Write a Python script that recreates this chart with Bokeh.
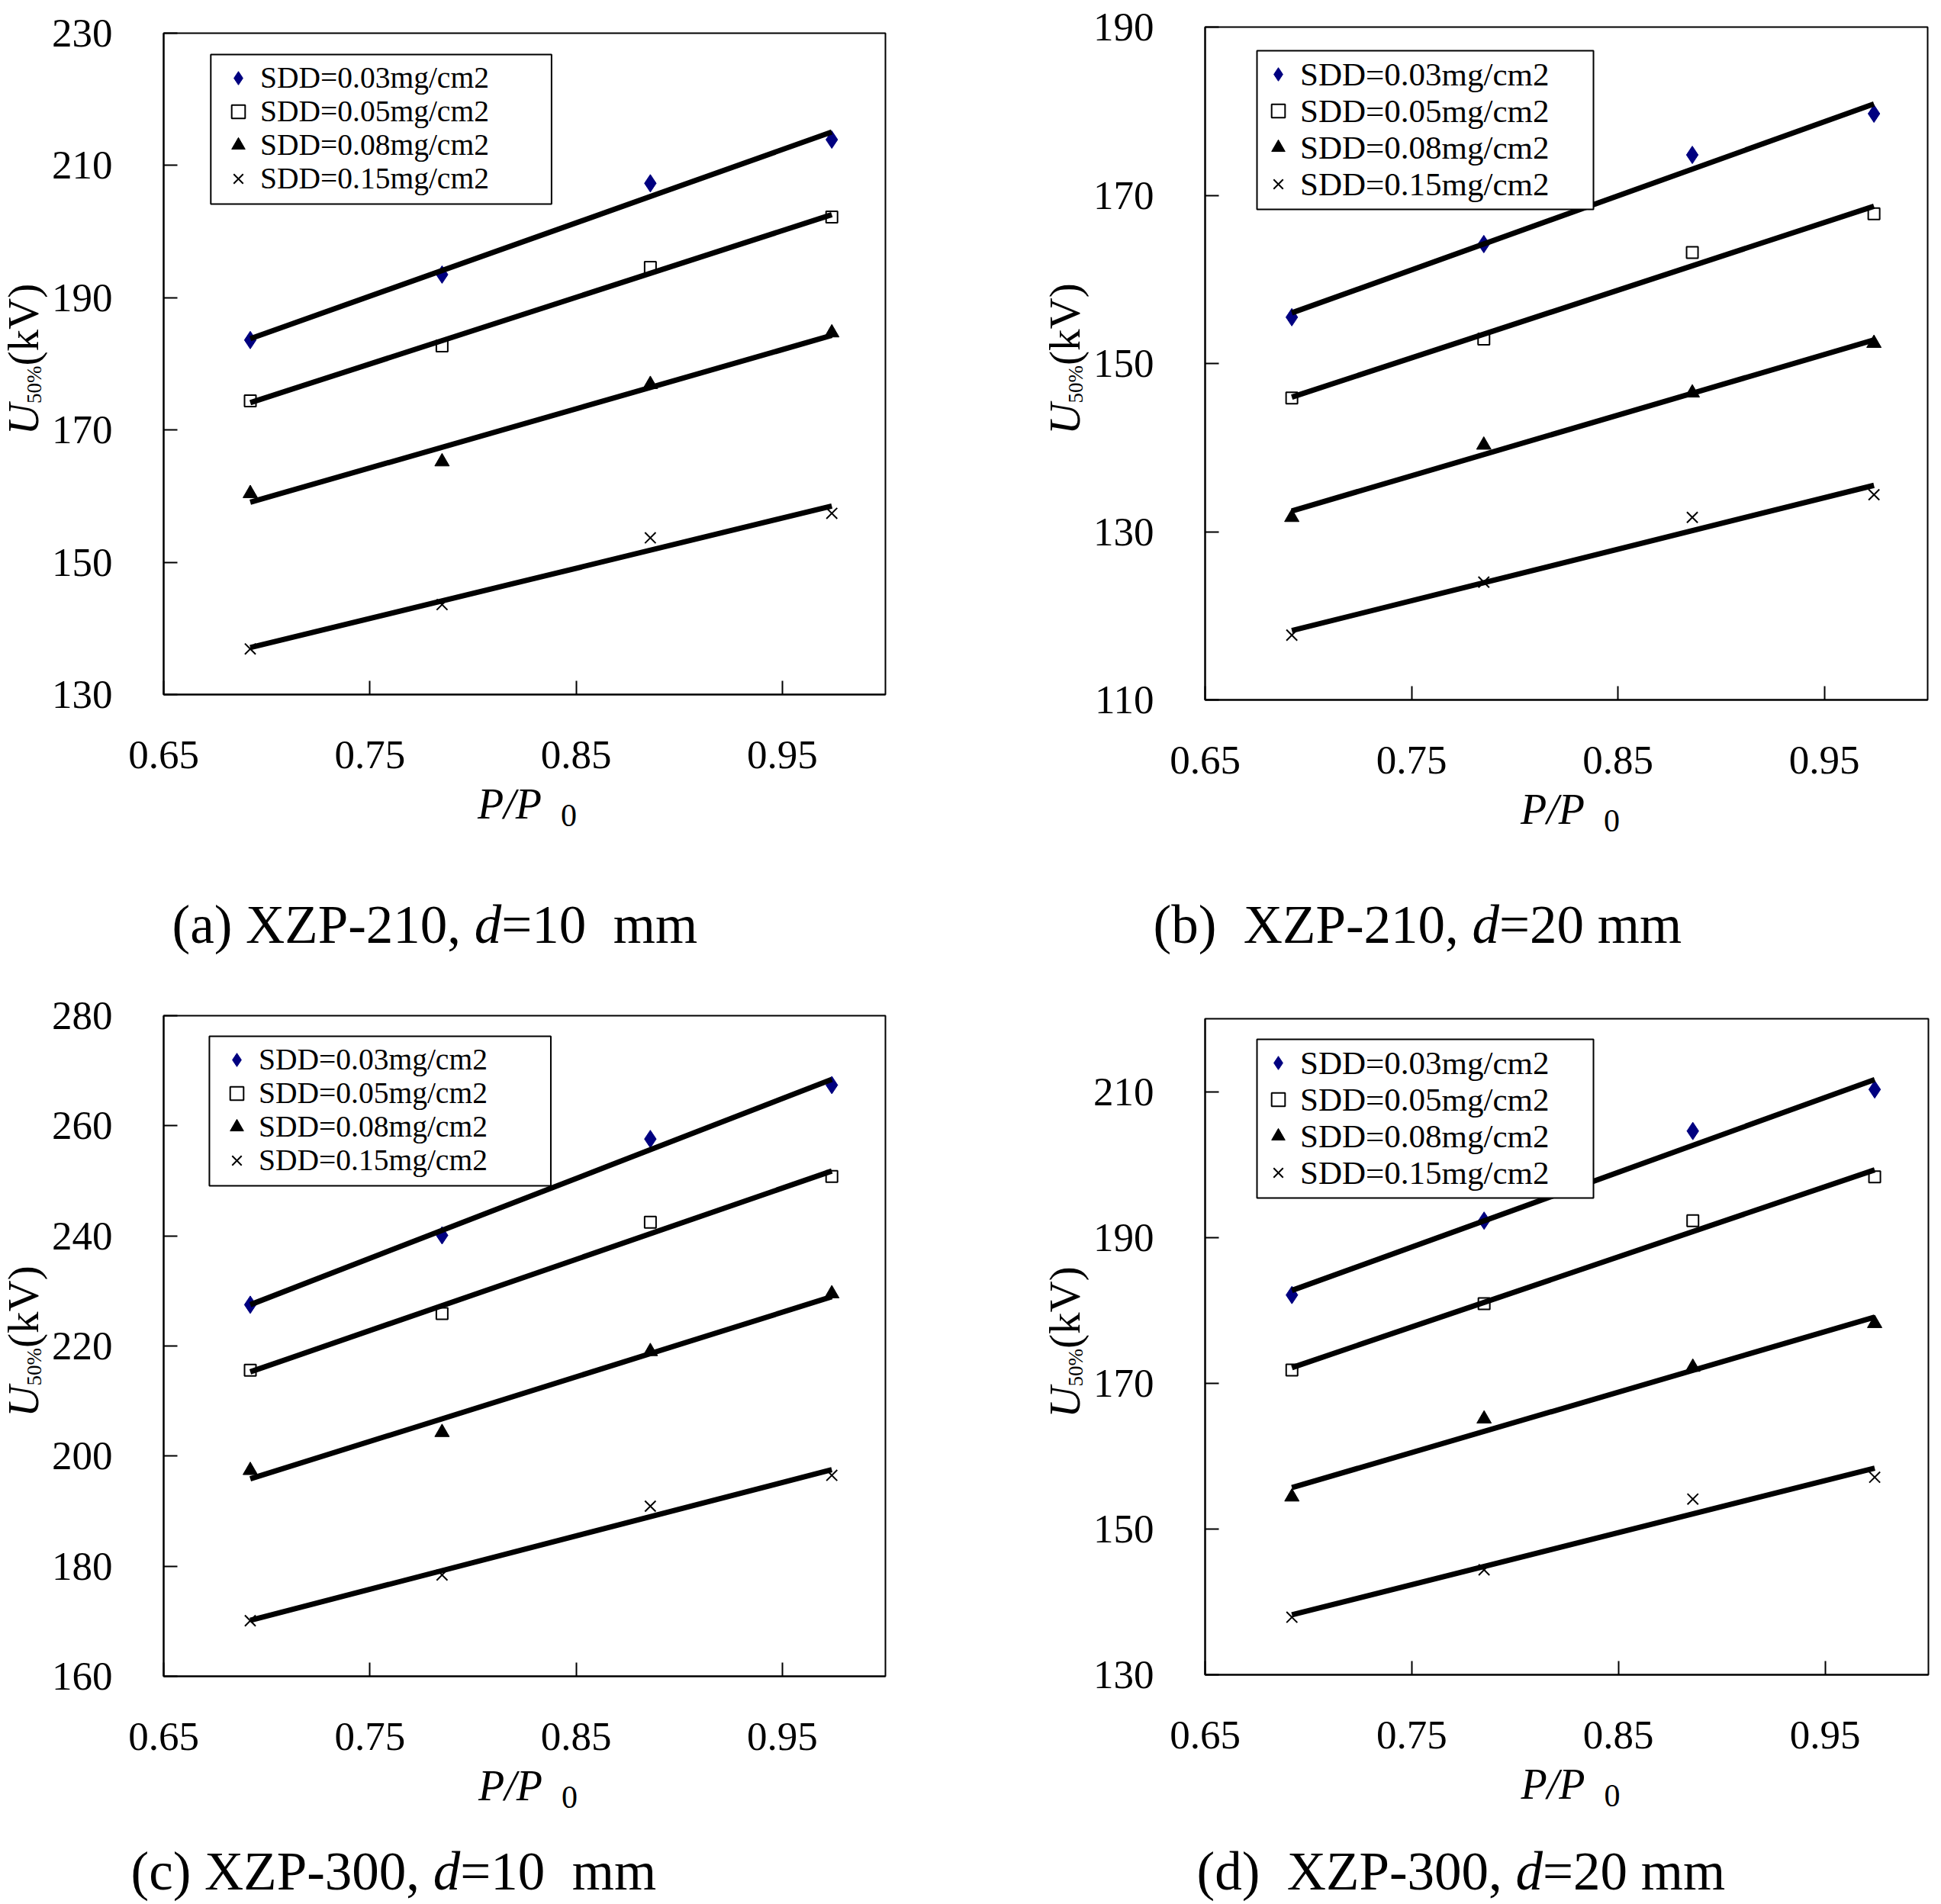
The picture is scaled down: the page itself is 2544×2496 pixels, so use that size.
import math
import numpy as np
from bokeh.plotting import figure
from bokeh.models import Range1d, FixedTicker, Label, Legend, LegendItem, BoxAnnotation
from bokeh.layouts import row, column
from bokeh.embed import file_html
from bokeh.resources import INLINE

# ---------------- data ----------------
pressure_ratio = [0.692, 0.785, 0.886, 0.974]
sdd_labels = ["SDD=0.03mg/cm2", "SDD=0.05mg/cm2", "SDD=0.08mg/cm2", "SDD=0.15mg/cm2"]

a_sdd003 = [183.6, 193.5, 207.3, 213.9]
a_sdd005 = [174.4, 182.7, 194.6, 202.2]
a_sdd008 = [160.4, 165.2, 176.9, 184.7]
a_sdd015 = [136.9, 143.6, 153.7, 157.4]

b_sdd003 = [155.5, 164.2, 174.8, 179.7]
b_sdd005 = [145.9, 152.9, 163.2, 167.8]
b_sdd008 = [131.7, 140.3, 146.5, 152.4]
b_sdd015 = [117.7, 124.0, 131.7, 134.4]

c_sdd003 = [227.5, 240.1, 257.6, 267.4]
c_sdd005 = [215.6, 225.9, 242.5, 250.8]
c_sdd008 = [197.4, 204.3, 219.0, 229.5]
c_sdd015 = [170.1, 178.4, 190.9, 196.5]

d_sdd003 = [182.1, 192.3, 204.6, 210.3]
d_sdd005 = [171.8, 180.9, 192.3, 198.3]
d_sdd008 = [154.4, 165.1, 172.2, 178.2]
d_sdd015 = [137.9, 144.4, 154.1, 157.1]

x_ticks = [0.65, 0.75, 0.85, 0.95]
a_y_ticks = [130, 150, 170, 190, 210, 230]
b_y_ticks = [110, 130, 150, 170, 190]
c_y_ticks = [160, 180, 200, 220, 240, 260, 280]
d_y_ticks = [130, 150, 170, 190, 210]

a_caption = [("(a) XZP-210, ", "normal"), ("d", "italic"), ("=10  mm", "normal")]
b_caption = [("(b)  XZP-210, ", "normal"), ("d", "italic"), ("=20 mm", "normal")]
c_caption = [("(c) XZP-300, ", "normal"), ("d", "italic"), ("=10  mm", "normal")]
d_caption = [("(d)  XZP-300, ", "normal"), ("d", "italic"), ("=20 mm", "normal")]

# ---------------- styling / layout ----------------
FONT = "Liberation Serif"
NAVY = "#000080"
STYLES = [
    dict(marker="diamond", size=23, fill_color=NAVY, line_color=NAVY, line_width=1),
    dict(marker="square", size=15, fill_color="white", line_color="black", line_width=2),
    dict(marker="triangle", size=19, fill_color="black", line_color="black", line_width=1),
    dict(marker="x", size=20, fill_color=None, line_color="black", line_width=2),
]

# Times-compatible advance widths (em)
REG = {'(': .333, ')': .333, ' ': .25, 'a': .444, 'b': .5, 'c': .444, 'd': .5,
       'X': .722, 'Z': .611, 'P': .556, '-': .333, ',': .25, '=': .564, 'm': .778,
       '%': .833, 'k': .5, 'V': .722, '/': .278}
ITA = {'U': .722, 'P': .611, '/': .278, 'd': .5}
MID = 0.36      # distance (em) from text-box middle down to the baseline
BOTTOM_BORDER = 114


def adv(ch, style):
    if ch.isdigit():
        return 0.5
    table = ITA if style == "italic" else REG
    return table.get(ch, REG.get(ch, 0.5))


def text_len(t, style, size):
    return sum(adv(c, style) for c in t) * size


def to_data(g, ax, ay):
    x0, x1 = g["xr"]
    y0, y1 = g["yr"]
    x = x0 + (ax - g["L"]) / (g["R"] - g["L"]) * (x1 - x0)
    y = y1 - (ay - g["T"]) / (g["B"] - g["T"]) * (y1 - y0)
    return x, y


def put(p, g, ax, ay, text, size, style="normal"):
    # (ax, ay): start of the text on its baseline, page pixels
    x, y = to_data(g, ax, ay - MID * size)
    p.add_layout(Label(x=x, y=y, text=text, text_font=FONT, text_font_size=f"{size}px",
                       text_font_style=style, text_align="left", text_baseline="middle",
                       text_color="black"))


def put_rot(p, g, bx, y_start, text, size, style="normal"):
    # upward-reading text; bx = baseline x, y_start = page y where the text begins
    length = text_len(text, style, size)
    x, y = to_data(g, bx - MID * size, y_start - length / 2)
    p.add_layout(Label(x=x, y=y, text=text, text_font=FONT, text_font_size=f"{size}px",
                       text_font_style=style, text_align="center", text_baseline="middle",
                       text_color="black", angle=math.pi / 2))
    return length


def put_segments(p, g, ax, ay, segments, size):
    cx = ax
    for seg, style in segments:
        word = ""
        wx = cx
        for ch in seg:
            if ch == " ":
                if word:
                    put(p, g, wx, ay, word, size, style)
                    word = ""
                cx += adv(ch, style) * size
            else:
                if not word:
                    wx = cx
                word += ch
                cx += adv(ch, style) * size
        if word:
            put(p, g, wx, ay, word, size, style)


def text_figure(x0, y0, w, h, top=0, bottom=0):
    p = figure(width=w, height=h, x_range=Range1d(0, w), y_range=Range1d(0, h - top - bottom),
               x_axis_type=None, y_axis_type=None, min_border=0,
               min_border_left=0, min_border_right=0,
               min_border_top=top, min_border_bottom=bottom,
               toolbar_location=None, output_backend="svg", title=None)
    p.outline_line_color = None
    p.background_fill_color = "white"
    p.border_fill_color = "white"
    g = dict(L=x0, R=x0 + w, T=y0 + top, B=y0 + h - bottom, xr=(0, w), yr=(0, h - top - bottom))
    return p, g


# absolute page geometry of each panel (frame L/R/T/B in page pixels)
PANELS = [
    dict(cx0=0, cw=1271, ry0=0, rh=1288, ytw=64, yt_base=51,
         L=211, R=1160, T=43, B=910, xt_y=1074, cap_x=225, cap_y=1237,
         yr=(130, 230), yt=a_y_ticks, data=[a_sdd003, a_sdd005, a_sdd008, a_sdd015],
         cap=a_caption, leg_left=62, leg_top=28, leg_w=448, pitch=44, pad=10,
         mk=102, tx=134, gw=56, lfont=39.5),
    dict(cx0=1271, cw=1271, ry0=0, rh=1288, ytw=158, yt_base=1416,
         L=1579, R=2526, T=35, B=917, xt_y=1081, cap_x=1511, cap_y=1237,
         yr=(110, 190), yt=b_y_ticks, data=[b_sdd003, b_sdd005, b_sdd008, b_sdd015],
         cap=b_caption, leg_left=68, leg_top=31, leg_w=441, pitch=48, pad=8,
         mk=100, tx=132, gw=48, lfont=43),
    dict(cx0=0, cw=1271, ry0=1288, rh=1206, ytw=64, yt_base=51,
         L=213, R=1160, T=1331, B=2197, xt_y=2361, cap_x=171, cap_y=2478,
         yr=(160, 280), yt=c_y_ticks, data=[c_sdd003, c_sdd005, c_sdd008, c_sdd015],
         cap=c_caption, leg_left=60, leg_top=27, leg_w=448, pitch=44, pad=10,
         mk=100, tx=132, gw=56, lfont=39.5),
    dict(cx0=1271, cw=1271, ry0=1288, rh=1206, ytw=158, yt_base=1416,
         L=1579, R=2527, T=1335, B=2195, xt_y=2359, cap_x=1568, cap_y=2478,
         yr=(130, 220), yt=d_y_ticks, data=[d_sdd003, d_sdd005, d_sdd008, d_sdd015],
         cap=d_caption, leg_left=68, leg_top=27, leg_w=441, pitch=48, pad=8,
         mk=100, tx=132, gw=48, lfont=43),
]


def make_panel(g):
    g["xr"] = (0.65, 1.0)
    mx0 = g["cx0"] + g["ytw"]
    mw = g["cx0"] + g["cw"] - mx0
    mh = g["B"] + BOTTOM_BORDER - g["ry0"]
    top_b, bot_b = g["T"] - g["ry0"], g["ry0"] + mh - g["B"]
    p = figure(width=mw, height=mh,
               x_range=Range1d(*g["xr"]), y_range=Range1d(*g["yr"]),
               min_border_left=g["L"] - mx0, min_border_right=mx0 + mw - g["R"],
               min_border_top=top_b, min_border_bottom=bot_b,
               toolbar_location=None, output_backend="svg", title=None)
    p.grid.visible = False
    p.outline_line_color = "black"
    p.outline_line_width = 2
    p.background_fill_color = "white"
    p.border_fill_color = "white"

    for ax in (p.xaxis[0], p.yaxis[0]):
        ax.axis_line_color = "black"
        ax.axis_line_width = 2
        ax.major_tick_in = 18
        ax.major_tick_out = 0
        ax.minor_tick_in = 0
        ax.minor_tick_out = 0
        ax.major_tick_line_width = 2
        ax.major_tick_line_color = "black"
        ax.major_label_text_font = FONT
        ax.major_label_text_font_size = "53px"
        ax.major_label_text_color = "black"
    p.xaxis.ticker = FixedTicker(ticks=x_ticks)
    p.yaxis.ticker = FixedTicker(ticks=g["yt"])
    p.xaxis.major_label_standoff = 61
    p.yaxis.major_label_standoff = 67

    renderers = []
    for series, st in zip(g["data"], STYLES):
        renderers.append(p.scatter(pressure_ratio, series, **st))
    for series in g["data"]:
        k, b0 = np.polyfit(pressure_ratio, series, 1)
        xs = [pressure_ratio[0], pressure_ratio[-1]]
        p.line(xs, [k * xs[0] + b0, k * xs[1] + b0], line_color="black", line_width=7)

    # legend frame
    frame_h = g["B"] - g["T"]
    pitch = g["pitch"]
    box_l, box_t = g["L"] + g["leg_left"], g["T"] + g["leg_top"]
    box_r, box_b = box_l + g["leg_w"], box_t + 4 * pitch + 2 * g["pad"]
    xl, yt_ = to_data(g, box_l, box_t)
    xr, yb = to_data(g, box_r, box_b)
    p.add_layout(BoxAnnotation(left=xl, right=xr, top=yt_, bottom=yb,
                               fill_color="white", fill_alpha=1.0,
                               line_color="black", line_width=2, line_alpha=1.0))
    # legend entries, one per row at the reference pitch
    item_h = max(1.109 * g["lfont"], 44)
    gx = g["mk"] - g["gw"] / 2 - 4
    standoff = max(0, int(round(g["tx"] - (gx + g["gw"]) - 7)))
    for i, (label, r) in enumerate(zip(sdd_labels, renderers)):
        centre = g["leg_top"] + g["pad"] + pitch * (i + 0.5)
        leg = Legend(items=[LegendItem(label=label, renderers=[r])],
                     location=(gx, frame_h - centre - item_h / 2),
                     label_text_font=FONT, label_text_font_size=f"{g['lfont']}px",
                     label_text_color="black",
                     label_height=40, glyph_height=44, glyph_width=g["gw"],
                     label_standoff=standoff, padding=0, spacing=0, margin=0,
                     border_line_color=None, background_fill_alpha=0.0)
        p.add_layout(leg)

    # y-axis title figure  U50%(kV)  (rotated, reading upwards); frame matches the plot frame
    ytf, gyt = text_figure(g["cx0"], g["ry0"], g["ytw"], mh, top=top_b, bottom=bot_b)
    cy = (g["T"] + g["B"]) / 2 - 6
    parts = [("U", 57, "italic", 0), ("50%", 27, "normal", 3), ("(kV)", 57, "normal", 0)]
    total = sum(text_len(t, s, sz) for t, sz, s, _ in parts)
    ay = cy + total / 2
    for t, sz, s, sh in parts:
        ay -= put_rot(ytf, gyt, g["yt_base"] + sh, ay, t, sz, s)

    # x-axis title and caption figure
    ty0 = g["ry0"] + mh
    tf, gtf = text_figure(g["cx0"], ty0, g["cw"], g["ry0"] + g["rh"] - ty0)
    cx = (g["L"] + g["R"]) / 2
    put(tf, gtf, cx - 60, g["xt_y"], "P/P", 56, "italic")
    put(tf, gtf, cx + 49, g["xt_y"] + 10, "0", 42, "normal")
    put_segments(tf, gtf, g["cap_x"], g["cap_y"], g["cap"], 71)

    return column(row(ytf, p), tf)


cols = [make_panel(g) for g in PANELS]
layout = column(row(cols[0], cols[1]), row(cols[2], cols[3]))

open("out.html", "w").write(file_html(layout, INLINE))
